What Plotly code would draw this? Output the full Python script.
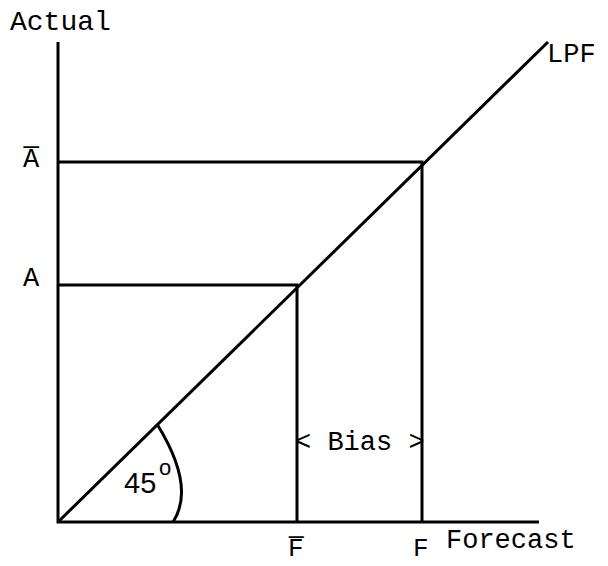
import plotly.graph_objects as go

# Levels (in drawing units, origin at the corner of the axes)
forecast_levels = [239, 364]      # F-bar, F
actual_levels = [237, 360]        # A, A-bar
forecast_labels = ["F\u0305", "F"]
actual_labels = ["A", "A\u0305"]
axis_end_x = 481
axis_end_y = 480
lpf_end = [490, 480]

MONO = "Liberation Mono, Courier New, monospace"
SANS = "Liberation Sans, Arial, sans-serif"
LINE = dict(color="black", width=3)
FS = 27

fig = go.Figure()

# axes
fig.add_trace(go.Scatter(x=[0, 0, axis_end_x], y=[axis_end_y, 0, 0], mode="lines", line=LINE, hoverinfo="skip"))
# 45-degree line (LPF)
fig.add_trace(go.Scatter(x=[0, lpf_end[0]], y=[0, lpf_end[1]], mode="lines", line=LINE, hoverinfo="skip"))
# projection lines
for fx, ay in zip(forecast_levels, actual_levels):
    fig.add_trace(go.Scatter(x=[0, fx, fx], y=[ay, ay, 0], mode="lines", line=LINE, hoverinfo="skip"))

# angle arc
fig.add_shape(type="path", path="M 99,98 Q 138,35 115,0", xref="x", yref="y",
              line=dict(color="black", width=3))

ann = []
ann.append(dict(x=-50, y=500, text="Actual", xanchor="left", yanchor="middle",
                font=dict(family=MONO, size=28, color="black")))
for lab, ay, dy in zip(actual_labels, actual_levels, [6, 2]):
    ann.append(dict(x=-27, y=ay + dy, text=lab, xanchor="center", yanchor="middle",
                    font=dict(family=MONO, size=FS, color="black")))
for lab, fx in zip(forecast_labels, forecast_levels):
    ann.append(dict(x=fx - 1, y=-27, text=lab, xanchor="center", yanchor="middle",
                    font=dict(family=MONO, size=26, color="black")))
ann.append(dict(x=386, y=-19, text="Forecast", xanchor="left", yanchor="middle",
                font=dict(family=MONO, size=FS, color="black")))
ann.append(dict(x=487, y=467, text="LPF", xanchor="left", yanchor="middle",
                font=dict(family=MONO, size=FS, color="black")))
ann.append(dict(x=(forecast_levels[0] + forecast_levels[1]) / 2, y=79, text="&lt; Bias &gt;",
                xanchor="center", yanchor="middle",
                font=dict(family=MONO, size=FS, color="black")))
ann.append(dict(x=82, y=39, text="45", xanchor="center", yanchor="middle",
                font=dict(family=SANS, size=29, color="black")))
ann.append(dict(x=107, y=55, text="o", xanchor="center", yanchor="middle",
                font=dict(family=SANS, size=22, color="black")))
for a in ann:
    a.update(xref="x", yref="y", showarrow=False)

fig.update_layout(
    width=600, height=558, autosize=False,
    margin=dict(l=0, r=0, t=0, b=0),
    paper_bgcolor="white", plot_bgcolor="white",
    showlegend=False,
    annotations=ann,
    xaxis=dict(range=[-50, 550], visible=False, fixedrange=True),
    yaxis=dict(range=[-44, 514], visible=False, fixedrange=True),
)

fig.write_html("out.html")
